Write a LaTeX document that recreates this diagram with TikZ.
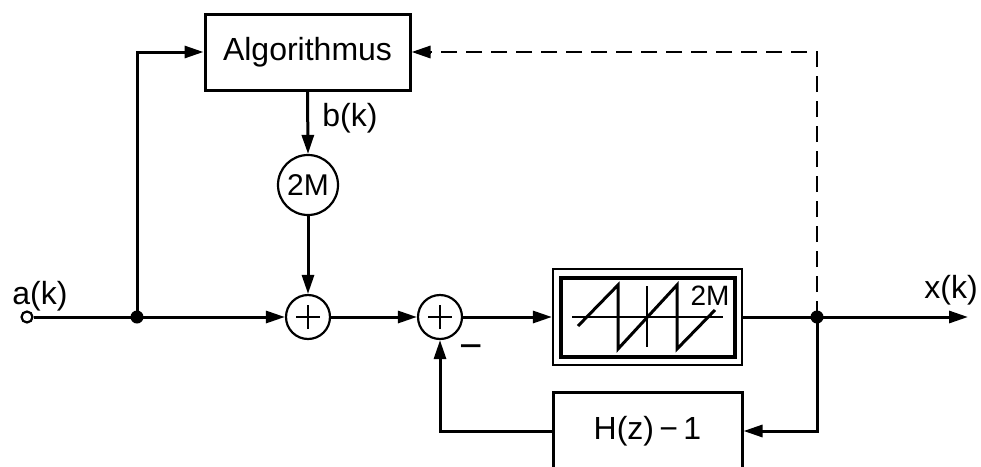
\documentclass[tikz,border=0pt]{standalone}
\usepackage{fontspec}
\setmainfont{Liberation Sans}
\usetikzlibrary{arrows.meta,calc}
\begin{document}
\begin{tikzpicture}[x=1pt,y=-1pt,
  line width=3pt,
  lbl/.style={font=\fontsize{32}{38}\selectfont, inner sep=0pt},
  blockbox/.style={draw, rectangle, line width=3pt, inner sep=0pt, font=\fontsize{32}{38}\selectfont},
  sumnode/.style={draw, circle, minimum size=44pt, inner sep=0pt, line width=2.2pt,
     path picture={\draw[line width=2.2pt] ($(path picture bounding box.center)+(-12pt,0)$) -- ($(path picture bounding box.center)+(12pt,0)$);
                   \draw[line width=2.2pt] ($(path picture bounding box.center)+(0,-12pt)$) -- ($(path picture bounding box.center)+(0,12pt)$);}},
  arr/.style={-{Triangle[length=19pt,width=12pt]}},
  jdot/.style={circle, fill=black, minimum size=13pt, inner sep=0pt},
]
\clip (0,0) rectangle (981,466);
\fill[white] (0,0) rectangle (981,466);

% nodes
\node[draw, circle, fill=white, minimum size=11pt, inner sep=0pt, line width=2.2pt] (in) at (27,317) {};
\coordinate (j1) at (137,317);
\node[blockbox, minimum width=205pt, minimum height=76pt] (alg) at (307.5,52) {Algorithmus};
\node[draw, circle, minimum size=60pt, inner sep=0pt, line width=2.2pt, font=\fontsize{30}{36}\selectfont] (mod) at (308,185) {2M};
\node[sumnode] (s1) at (308,317) {};
\node[sumnode] (s2) at (440,317) {};
\node[draw, rectangle, line width=2.2pt, minimum width=189pt, minimum height=96pt, inner sep=0pt] (q) at (647.5,317) {};
\coordinate (j2) at (817,317);
\coordinate (out) at (968,317);
\node[blockbox, minimum width=189pt, minimum height=77pt] (h) at (647.5,431) {H(z)\,−\,1};
\coordinate (dtip) at ($(alg.east)+(19pt,0)$);

% quantizer inner drawing
\draw[line width=4pt] (561,278) rectangle (735,357);
\draw[line width=1.5pt] (572,317) -- (723,317);
\draw[line width=1.5pt] (647,286) -- (647,347);
\draw[line width=3pt, line join=miter] (578,326) -- (618,285) -- (618,349) -- (677,285) -- (677,349) -- (715,310);
\node[lbl, font=\fontsize{28}{33}\selectfont] (qlbl) at (710,296) {2M};

% connectors
\draw[arr] (in.east) -- (s1.west);
\draw[arr] (j1) |- (alg.west);
\draw[arr] (alg.south) -- (mod.north);
\draw[arr] (mod.south) -- (s1.north);
\draw[arr] (s1.east) -- (s2.west);
\draw[arr] (s2.east) -- (q.west);
\draw[arr] (q.east) -- (out);
\draw[line width=2.2pt, dash pattern=on 16pt off 9pt] (j2) |- (dtip);
\draw[arr] (dtip) -- (alg.east);
\draw[arr] (j2) |- (h.east);
\draw[arr] (h.west) -| (s2.south);

\node[jdot] at (j1) {};
\node[jdot] at (j2) {};

% labels
\node[lbl] (la) at (40,296) {a(k)};
\node[lbl] (lb) at (350,118) {b(k)};
\node[lbl] (lx) at (951,290) {x(k)};
\node[lbl, font=\fontsize{40}{44}\selectfont] (lm) at (471,352) {−};
\end{tikzpicture}
\end{document}
